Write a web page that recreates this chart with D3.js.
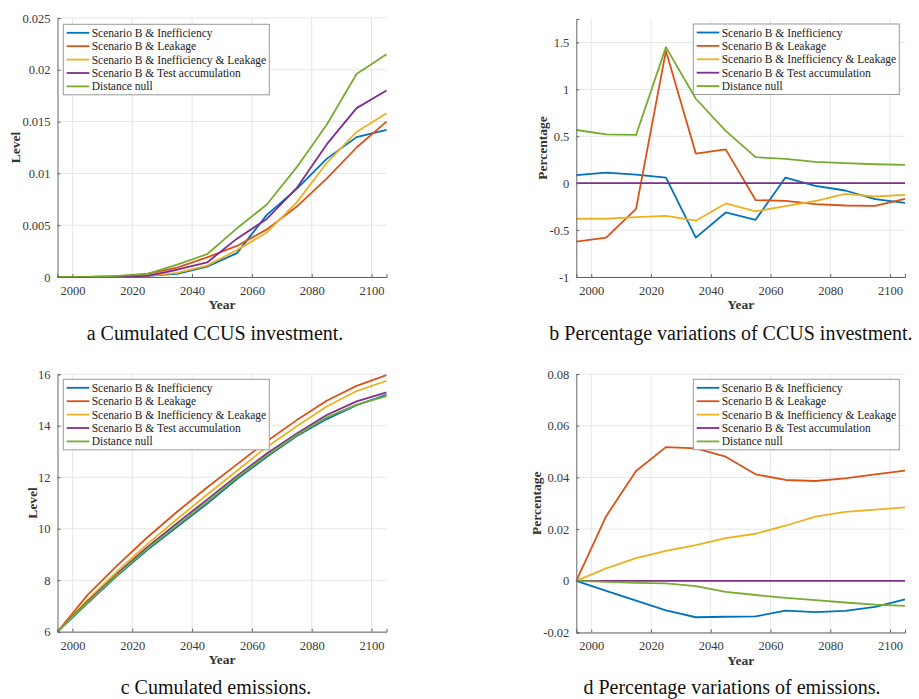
<!DOCTYPE html>
<html>
<head>
<meta charset="utf-8">
<script src="https://cdn.jsdelivr.net/npm/d3@7"></script>
<style>
    body { margin: 0; background: #fff; }
    svg { display: block; font-family: "Liberation Serif", "Times New Roman", serif; }
</style>
</head>
<body>
<svg id="chart" width="919" height="699"></svg>
<script>
'use strict';

// years of the model steps
var years = [1995, 2005, 2015, 2025, 2035, 2045, 2055, 2065, 2075, 2085, 2095, 2105];

var seriesNames = [
    "Scenario B & Inefficiency",
    "Scenario B & Leakage",
    "Scenario B & Inefficiency & Leakage",
    "Scenario B & Test accumulation",
    "Distance null"
];
var seriesColors = ["#0072BD", "#D95319", "#EDB120", "#7E2F8E", "#77AC30"];

var xTicks = [2000, 2020, 2040, 2060, 2080, 2100];

// a - cumulated CCUS investment (level)
var ccusIneff = [0, 0, 0.00002, 0.0001, 0.0003, 0.0010, 0.0023, 0.0060, 0.0085, 0.0114, 0.0135, 0.0142];
var ccusLeak = [0, 0, 0.00005, 0.0003, 0.0009, 0.0019, 0.0030, 0.0046, 0.0068, 0.0095, 0.0125, 0.0150];
var ccusIneffLeak = [0, 0, 0.00002, 0.0001, 0.0004, 0.0011, 0.0026, 0.0043, 0.0072, 0.0110, 0.0140, 0.0158];
var ccusTest = [0, 0, 0.00003, 0.0001, 0.0007, 0.0014, 0.0037, 0.0056, 0.0086, 0.0128, 0.0163, 0.0180];
var ccusNull = [0, 0.00002, 0.0001, 0.0003, 0.0012, 0.0022, 0.0047, 0.0070, 0.0106, 0.0147, 0.0196, 0.0215];
var ccusTicks = [0, 0.005, 0.01, 0.015, 0.02, 0.025];

// b - percentage variations of CCUS investment
var ccusPctIneff = [0.085, 0.113, 0.092, 0.06, -0.58, -0.312, -0.39, 0.06, -0.028, -0.078, -0.17, -0.21];
var ccusPctLeak = [-0.624, -0.58, -0.273, 1.41, 0.316, 0.36, -0.18, -0.188, -0.223, -0.238, -0.241, -0.167];
var ccusPctIneffLeak = [-0.379, -0.379, -0.362, -0.348, -0.40, -0.216, -0.30, -0.245, -0.19, -0.113, -0.142, -0.124];
var ccusPctTest = [0, 0, 0, 0, 0, 0, 0, 0, 0, 0, 0, 0];
var ccusPctNull = [0.567, 0.52, 0.514, 1.45, 0.90, 0.557, 0.277, 0.259, 0.227, 0.213, 0.202, 0.195];
var ccusPctTicks = [-1, -0.5, 0, 0.5, 1, 1.5];

// c - cumulated emissions (level)
var emiIneff = [6.0, 7.10, 8.18, 9.17, 10.08, 10.97, 11.93, 12.80, 13.60, 14.26, 14.80, 15.20];
var emiLeak = [6.0, 7.42, 8.58, 9.66, 10.66, 11.60, 12.50, 13.40, 14.22, 14.97, 15.55, 15.97];
var emiIneffLeak = [6.0, 7.23, 8.35, 9.40, 10.38, 11.32, 12.25, 13.18, 13.98, 14.75, 15.35, 15.75];
var emiTest = [6.0, 7.17, 8.25, 9.28, 10.22, 11.13, 12.05, 12.92, 13.70, 14.42, 14.95, 15.30];
var emiNull = [6.0, 7.13, 8.21, 9.22, 10.13, 11.04, 11.99, 12.85, 13.64, 14.33, 14.82, 15.15];
var emiTicks = [6, 8, 10, 12, 14, 16];

// d - percentage variations of emissions
var emiPctIneff = [0, -0.0039, -0.0077, -0.0114, -0.0141, -0.0139, -0.0138, -0.0115, -0.0121, -0.0116, -0.0101, -0.0072];
var emiPctLeak = [0, 0.025, 0.0425, 0.0517, 0.0512, 0.048, 0.0412, 0.039, 0.0386, 0.0396, 0.0412, 0.0426];
var emiPctIneffLeak = [0, 0.0048, 0.0088, 0.0116, 0.0138, 0.0165, 0.0182, 0.0213, 0.0248, 0.0267, 0.0275, 0.0284];
var emiPctTest = [0, 0, 0, 0, 0, 0, 0, 0, 0, 0, 0, 0];
var emiPctNull = [0, -0.0004, -0.0008, -0.001, -0.0021, -0.0043, -0.0055, -0.0066, -0.0075, -0.0084, -0.0092, -0.0097];
var emiPctTicks = [-0.02, 0, 0.02, 0.04, 0.06, 0.08];

var svg = d3.select("#chart");

var panels = [
    {
        box: {left: 57.5, right: 386.5, top: 18, bottom: 277},
        yDomain: [0, 0.025], yTicks: ccusTicks,
        series: [ccusIneff, ccusLeak, ccusIneffLeak, ccusTest, ccusNull],
        yLabel: "Level", yLabelX: 15,
        legend: {x: 63.3, y: 24.3},
        caption: "a Cumulated CCUS investment.", capX: 215, capY: 340
    },
    {
        box: {left: 576.3, right: 905, top: 19, bottom: 277},
        yDomain: [-1, 1.75], yTicks: ccusPctTicks,
        series: [ccusPctIneff, ccusPctLeak, ccusPctIneffLeak, ccusPctTest, ccusPctNull],
        yLabel: "Percentage", yLabelX: 542,
        legend: {x: 693.3, y: 24},
        caption: "b Percentage variations of CCUS investment.", capX: 731, capY: 340
    },
    {
        box: {left: 57.5, right: 386.5, top: 374.3, bottom: 631.7},
        yDomain: [6, 16], yTicks: emiTicks,
        series: [emiIneff, emiLeak, emiIneffLeak, emiTest, emiNull],
        yLabel: "Level", yLabelX: 32,
        legend: {x: 63.3, y: 379.3},
        caption: "c Cumulated emissions.", capX: 216, capY: 694
    },
    {
        box: {left: 576.3, right: 905, top: 374, bottom: 632.5},
        yDomain: [-0.02, 0.08], yTicks: emiPctTicks,
        series: [emiPctIneff, emiPctLeak, emiPctIneffLeak, emiPctTest, emiPctNull],
        yLabel: "Percentage", yLabelX: 536,
        legend: {x: 693.3, y: 379.3},
        caption: "d Percentage variations of emissions.", capX: 732, capY: 694
    }
];

panels.forEach(drawPanel);

function drawPanel(p) {
    var b = p.box;
    var x = d3.scaleLinear().domain([1995, 2105]).range([b.left, b.right]);
    var y = d3.scaleLinear().domain(p.yDomain).range([b.bottom, b.top]);
    var g = svg.append("g");

    // grid
    g.append("g").selectAll("line.vgrid")
        .data(xTicks)
        .enter().append("line")
        .attr("x1", function(d) { return x(d); })
        .attr("x2", function(d) { return x(d); })
        .attr("y1", b.top).attr("y2", b.bottom)
        .attr("stroke", "#e6e6e6").attr("stroke-width", 1);
    g.append("g").selectAll("line.hgrid")
        .data(p.yTicks)
        .enter().append("line")
        .attr("x1", b.left).attr("x2", b.right)
        .attr("y1", function(d) { return y(d); })
        .attr("y2", function(d) { return y(d); })
        .attr("stroke", "#e6e6e6").attr("stroke-width", 1);

    // series lines
    var line = d3.line()
        .x(function(d, i) { return x(years[i]); })
        .y(function(d) { return y(d); });
    g.append("g").selectAll("path")
        .data(p.series)
        .enter().append("path")
        .attr("d", line)
        .attr("fill", "none")
        .attr("stroke", function(d, i) { return seriesColors[i]; })
        .attr("stroke-width", 1.8)
        .attr("stroke-linejoin", "round");

    // axes
    var xAxis = g.append("g")
        .attr("transform", "translate(0," + b.bottom + ")")
        .call(d3.axisBottom(x).tickValues(xTicks).tickSize(-3).tickPadding(9).tickFormat(String));
    var yAxis = g.append("g")
        .attr("transform", "translate(" + b.left + ",0)")
        .call(d3.axisLeft(y).tickValues(p.yTicks).tickSize(-3).tickPadding(7).tickFormat(String));
    [xAxis, yAxis].forEach(function(ax) {
        ax.select(".domain").attr("stroke", "#666");
        ax.selectAll(".tick line").attr("stroke", "#666");
        ax.selectAll(".tick text")
            .attr("fill", "#3a3a3a")
            .style("font-family", "Liberation Serif")
            .style("font-size", "12.5px");
    });

    // axis labels
    g.append("text")
        .attr("x", (b.left + b.right) / 2)
        .attr("y", b.bottom + 32)
        .attr("text-anchor", "middle")
        .attr("fill", "#333")
        .style("font-size", "13.5px")
        .style("font-weight", "bold")
        .text("Year");
    g.append("text")
        .attr("transform", "translate(" + p.yLabelX + "," + ((b.top + b.bottom) / 2) + ") rotate(-90)")
        .attr("dy", "0.35em")
        .attr("text-anchor", "middle")
        .attr("fill", "#333")
        .style("font-size", "13.5px")
        .style("font-weight", "bold")
        .text(p.yLabel);

    // legend
    var legend = g.append("g").attr("transform", "translate(" + p.legend.x + "," + p.legend.y + ")");
    legend.append("rect")
        .attr("width", 206).attr("height", 70.5)
        .attr("fill", "#fff").attr("stroke", "#999").attr("stroke-width", 1);
    var rows = legend.selectAll("g.row")
        .data(seriesNames)
        .enter().append("g")
        .attr("class", "row")
        .attr("transform", function(d, i) { return "translate(0," + (8.5 + i * 13.4) + ")"; });
    rows.append("line")
        .attr("x1", 3.4).attr("x2", 26)
        .attr("stroke", function(d, i) { return seriesColors[i]; })
        .attr("stroke-width", 1.8);
    rows.append("text")
        .attr("x", 28.4)
        .attr("dy", "0.35em")
        .attr("fill", "#222")
        .style("font-size", "11.5px")
        .text(function(d) { return d; });

    // caption
    svg.append("text")
        .attr("x", p.capX)
        .attr("y", p.capY)
        .attr("text-anchor", "middle")
        .attr("fill", "#111")
        .style("font-size", "20px")
        .text(p.caption);
}
</script>
</body>
</html>
